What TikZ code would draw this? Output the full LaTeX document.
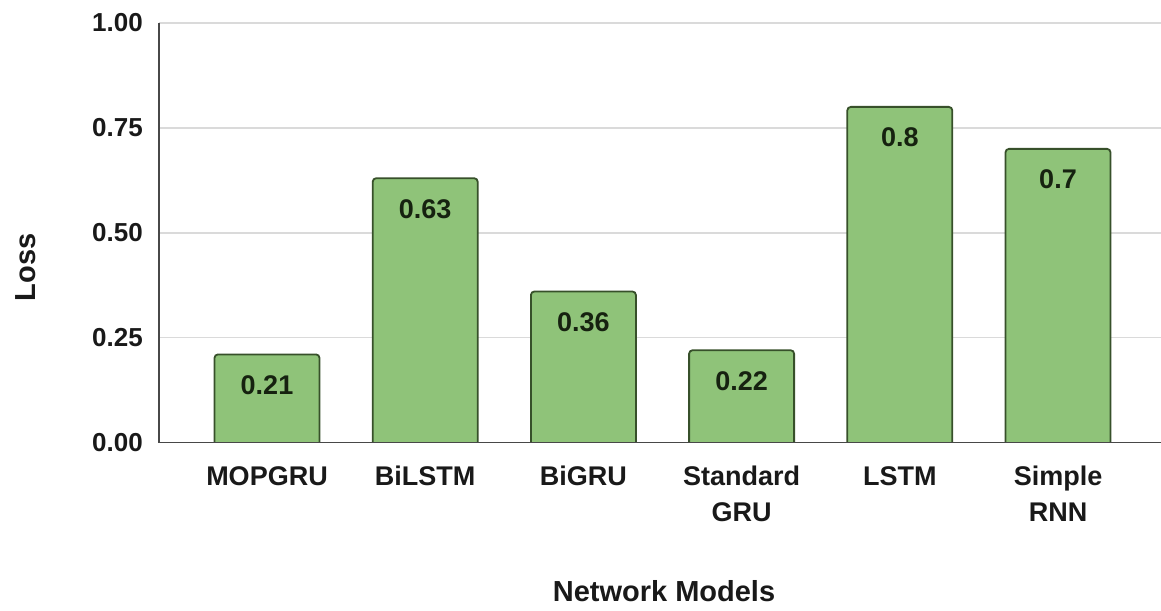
\documentclass[tikz,border=0pt]{standalone}
\usepackage{fontspec}
\setmainfont{Liberation Sans}
\definecolor{barfill}{RGB}{143,195,121}
\definecolor{baredge}{RGB}{55,80,42}
\definecolor{gridgray}{RGB}{218,218,218}
\definecolor{axisgray}{RGB}{72,72,72}
\definecolor{valtext}{RGB}{22,34,16}
\definecolor{lbltext}{RGB}{25,25,25}
\begin{document}
\begin{tikzpicture}[
  x=1pt, y=-1pt,
  gridline/.style={draw=gridgray, line width=1.6pt},
  axisline/.style={draw=axisgray, line width=1.8pt},
  barshape/.style={fill=barfill, draw=baredge, line width=1.8pt, rounded corners=3.5pt},
  ticklabel/.style={anchor=east, inner sep=0pt, text=lbltext,
    font=\bfseries\fontsize{26}{31}\selectfont},
  vallabel/.style={anchor=base, inner sep=0pt, text=valtext,
    font=\bfseries\fontsize{27}{32}\selectfont},
  catlabel/.style={anchor=north, inner sep=0pt, align=center, text=lbltext,
    font=\bfseries\fontsize{27}{36}\selectfont},
  axistitle/.style={anchor=base, inner sep=0pt, text=lbltext,
    font=\bfseries\fontsize{29}{34}\selectfont}
]
\useasboundingbox (0,0) rectangle (1161,610);

% value axis: zero at y=442.5, one unit = 419.5
\def\yzero{442.5}
\def\yunit{419.5}

% horizontal grid lines and tick labels
\foreach \v/\t in {0.25/0.25, 0.5/0.50, 0.75/0.75, 1/1.00} {
  \draw[gridline] (159,{\yzero-\v*\yunit}) -- (1161,{\yzero-\v*\yunit});
}
\foreach \v/\t/\n in {0/0.00/t0, 0.25/0.25/t1, 0.5/0.50/t2, 0.75/0.75/t3, 1/1.00/t4} {
  \node[ticklabel] (\n) at (143,{\yzero-\v*\yunit}) {\t};
}

% bars with their value labels
\foreach \xc/\v/\n in {267/0.21/b1, 425.2/0.63/b2, 583.4/0.36/b3,
                       741.6/0.22/b4, 899.8/0.8/b5, 1058/0.7/b6} {
  \draw[barshape] (\xc-52.5,\yzero) -- (\xc-52.5,{\yzero-\v*\yunit})
        -- (\xc+52.5,{\yzero-\v*\yunit}) -- (\xc+52.5,\yzero);
  \node[vallabel] (\n) at (\xc,{\yzero-\v*\yunit+40}) {\v};
}

% axes
\draw[axisline] (159,23) -- (159,\yzero) -- (1161,\yzero);

% category labels
\node[catlabel] (c1) at (267,466) {MOPGRU};
\node[catlabel] (c2) at (425.2,466) {BiLSTM};
\node[catlabel] (c3) at (583.4,466) {BiGRU};
\node[catlabel] (c4) at (741.6,466) {Standard\\GRU};
\node[catlabel] (c5) at (899.8,466) {LSTM};
\node[catlabel] (c6) at (1058,466) {Simple\\RNN};

% axis titles
\node[axistitle] (xt) at (664,601) {Network Models};
\node[axistitle, rotate=90] (yt) at (35,267.5) {Loss};
\end{tikzpicture}
\end{document}
